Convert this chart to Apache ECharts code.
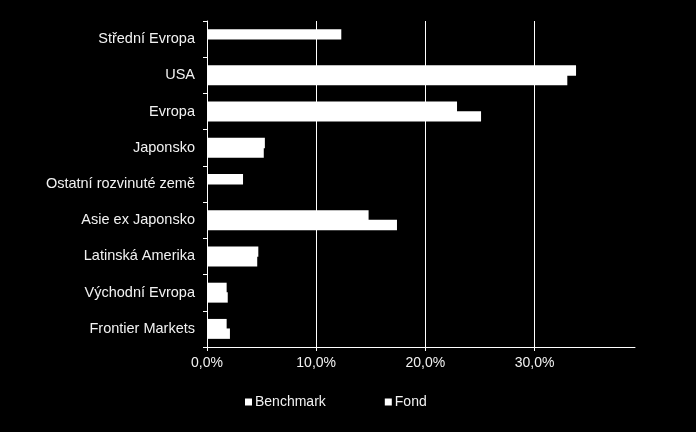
<!DOCTYPE html>
<html>
<head>
<meta charset="utf-8">
<script src="https://cdn.jsdelivr.net/npm/echarts@6/dist/echarts.min.js"></script>
<style>html,body{margin:0;padding:0;background:#000;}#c{width:696px;height:432px;}</style>
</head>
<body>
<div id="c"></div>
<script>
const categories = ["Střední Evropa","USA","Evropa","Japonsko","Ostatní rozvinuté země","Asie ex Japonsko","Latinská Amerika","Východní Evropa","Frontier Markets"];
const benchmark = [12.3, 33.8, 22.9, 5.3, 3.3, 14.8, 4.7, 1.8, 1.8];
const fond = [0, 33.0, 25.1, 5.2, 0, 17.4, 4.6, 1.9, 2.1];
const xTicks = [0, 10, 20, 30];

const chart = echarts.init(document.getElementById('c'));
const font = 'Liberation Sans, Arial, sans-serif';
chart.setOption({
  backgroundColor: '#000',
  animation: false,
  grid: {left: 207, right: 61, top: 21, bottom: 85},
  legend: {
    data: ['Benchmark', 'Fond'],
    left: 240, top: 390,
    icon: 'rect', itemWidth: 7, itemHeight: 7, itemGap: 59,
    textStyle: {color: '#f2f2f2', fontSize: 14, fontFamily: font, padding: [0, 0, 0, -2]}
  },
  xAxis: {
    type: 'value', min: 0, max: 39.2, interval: 10,
    axisLine: {show: true, lineStyle: {color: '#fff', width: 1}},
    axisTick: {show: true, length: 4, lineStyle: {color: '#fff'}},
    splitLine: {show: true, showMinLine: false, showMaxLine: false, lineStyle: {color: '#fff', width: 1}},
    axisLabel: {
      color: '#f2f2f2', fontSize: 14, fontFamily: font, margin: 9,
      showMaxLabel: false,
      formatter: v => xTicks.includes(v) ? v.toFixed(1).replace('.', ',') + '%' : ''
    }
  },
  yAxis: {
    type: 'category', data: categories, inverse: true,
    axisLine: {show: true, lineStyle: {color: '#fff', width: 1}},
    axisTick: {show: true, length: 4, lineStyle: {color: '#fff'}},
    axisLabel: {color: '#f2f2f2', fontSize: 14.5, fontFamily: font, margin: 12}
  },
  series: [
    {name: 'Benchmark', type: 'bar', data: benchmark, barGap: '-8%', barCategoryGap: '45%',
     itemStyle: {color: '#fff'}},
    {name: 'Fond', type: 'bar', data: fond, barGap: '-8%', barCategoryGap: '45%',
     itemStyle: {color: '#fff'}}
  ]
});
</script>
</body>
</html>
